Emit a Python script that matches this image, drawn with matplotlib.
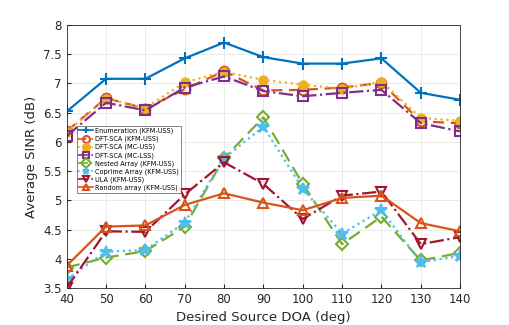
import matplotlib
matplotlib.use("Agg")
import matplotlib.pyplot as plt

doa = [40, 50, 60, 70, 80, 90, 100, 110, 120, 130, 140]

enum_kfm = [6.52, 7.08, 7.08, 7.43, 7.70, 7.45, 7.34, 7.34, 7.43, 6.84, 6.72]
dft_kfm = [6.18, 6.75, 6.57, 6.90, 7.21, 6.88, 6.89, 6.93, 7.01, 6.35, 6.32]
dft_mcuss = [6.17, 6.74, 6.58, 7.02, 7.20, 7.06, 6.98, 6.91, 7.03, 6.41, 6.36]
dft_mclss = [6.10, 6.67, 6.54, 6.93, 7.12, 6.87, 6.78, 6.84, 6.89, 6.32, 6.18]
nested = [3.85, 4.02, 4.13, 4.55, 5.72, 6.42, 5.28, 4.25, 4.72, 3.97, 4.10]
coprime = [3.65, 4.12, 4.15, 4.62, 5.72, 6.26, 5.20, 4.43, 4.83, 3.94, 4.05]
ula = [3.50, 4.47, 4.46, 5.10, 5.65, 5.28, 4.68, 5.08, 5.15, 4.25, 4.37]
random_arr = [3.88, 4.55, 4.57, 4.92, 5.12, 4.96, 4.83, 5.04, 5.08, 4.61, 4.47]

fig = plt.figure(figsize=(5.09, 3.25), dpi=100)
ax = fig.add_axes([0.131, 0.114, 0.773, 0.809])

# style: (data, label, colour, linestyle, marker, size, filled)
series = [
    (enum_kfm, "Enumeration (KFM-USS)", "#0072BD", "-", "+", 9, False),
    (dft_kfm, "DFT-SCA (KFM-USS)", "#D95319", (0, (5, 3)), "o", 7, False),
    (dft_mcuss, "DFT-SCA (MC-USS)", "#EDB120", ":", "o", 6, True),
    (dft_mclss, "DFT-SCA (MC-LSS)", "#7E2F8E", "-.", "s", 6.5, False),
    (nested, "Nested Array (KFM-USS)", "#77AC30", (0, (6, 3)), "D", 6, False),
    (coprime, "Coprime Array (KFM-USS)", "#4DBEEE", ":", "*", 9, True),
    (ula, "ULA (KFM-USS)", "#A2142F", "-.", "v", 7, False),
    (random_arr, "Random array (KFM-USS)", "#D95319", "-", "^", 7, False),
]

for vals, lab, col, ls, mk, ms, filled in series:
    ax.plot(doa, vals, color=col, linestyle=ls, linewidth=1.6, marker=mk,
            markersize=ms, markeredgewidth=1.5,
            markerfacecolor=col if filled else "none", label=lab)

ax.set_xlim(40, 140)
ax.set_ylim(3.5, 8)
ax.set_xticks(doa)
ax.set_yticks([3.5, 4, 4.5, 5, 5.5, 6, 6.5, 7, 7.5, 8])
ax.set_yticklabels(["3.5", "4", "4.5", "5", "5.5", "6", "6.5", "7", "7.5", "8"])
ax.grid(True, color="#e6e6e6", linewidth=0.6)
ax.set_axisbelow(True)
ax.tick_params(labelsize=8.5, direction="in", length=3, color="#262626", labelcolor="#262626")
for sp in ax.spines.values():
    sp.set_color("#262626")
    sp.set_linewidth(0.6)
ax.set_xlabel("Desired Source DOA (deg)", fontsize=9.5, color="#262626")
ax.set_ylabel("Average SINR (dB)", fontsize=9.5, color="#262626")

leg = ax.legend(loc="upper left", bbox_to_anchor=(0.025, 0.617), fontsize=4.7,
                frameon=True, fancybox=False, edgecolor="#262626",
                handlelength=2.2, borderpad=0.3, labelspacing=0.25, handletextpad=0.4,
                borderaxespad=0)
leg.get_frame().set_linewidth(0.5)
for h in leg.get_lines():
    h.set_markersize(5)
    h.set_linewidth(1.2)

fig.savefig("out.png", dpi=100)
